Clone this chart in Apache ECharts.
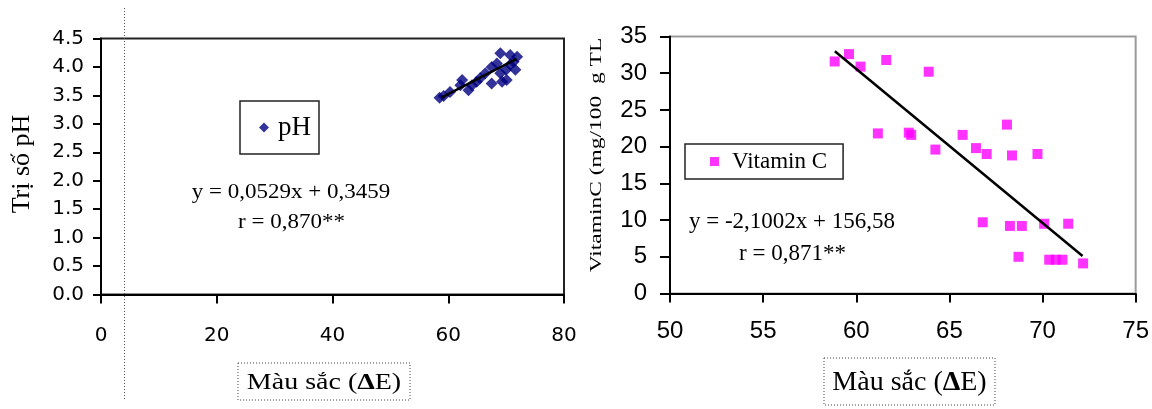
<!DOCTYPE html>
<html><head><meta charset="utf-8">
<script src="https://cdn.jsdelivr.net/npm/echarts/dist/echarts.min.js"></script>
<style>html,body{margin:0;padding:0;background:#fff}#c{width:1152px;height:409px}</style>
</head><body><div id="c"></div>
<script>
// ---- pH vs colour (left chart) ----
const phX = [58.5, 59.2, 60.3, 62.1, 62.4, 63.5, 64.1, 64.9, 65.5, 66.4, 67.5, 67.5, 68.4, 69.0, 69.3, 70.0, 70.1, 69.0, 70.7, 71.9, 71.6, 70.7, 71.3];
const phY = [3.46, 3.49, 3.56, 3.68, 3.77, 3.59, 3.68, 3.74, 3.80, 3.89, 4.00, 3.71, 4.06, 3.89, 3.74, 3.95, 3.77, 4.24, 4.21, 4.18, 3.95, 4.04, 4.09];
const phTrendX = [58.8, 71.8];
const phTrendY = [3.46, 4.14];
const phXTicks = {min: 0, max: 80, step: 20};
const phYTicks = {min: 0, max: 4.5, step: 0.5};

// ---- Vitamin C vs colour (right chart) ----
const vcX = [58.84, 59.61, 60.23, 61.61, 63.89, 61.16, 62.82, 62.95, 64.25, 65.71, 66.43, 67.0, 68.09, 68.36, 69.73, 66.79, 68.25, 68.89, 70.09, 71.38, 68.71, 70.36, 70.71, 71.07, 72.18];
const vcY = [31.6, 32.6, 30.9, 31.8, 30.2, 21.8, 21.9, 21.6, 19.6, 21.6, 19.8, 19.0, 23.0, 18.8, 19.0, 9.7, 9.2, 9.2, 9.5, 9.5, 5.0, 4.6, 4.6, 4.6, 4.1];
const vcTrendX = [58.85, 72.15];
const vcTrendY = [33.0, 5.1];
const vcXTicks = {min: 50, max: 75, step: 5};
const vcYTicks = {min: 0, max: 35, step: 5};

// ---- texts ----
const xTitle = ['Màu sắc (', 'Δ', 'E)'];
const phYTitle = 'Trị số pH';
const vcYTitle = 'VitaminC (mg/100  g TL';
const phName = 'pH';
const vcName = 'Vitamin C';
const phEq = 'y = 0,0529x + 0,3459';
const phR = 'r = 0,870**';
const vcEq = 'y = -2,1002x + 156,58';
const vcR = 'r = 0,871**';

const pairs = (xs, ys) => xs.map((x, i) => [x, ys[i]]);
const SERIF = 'Liberation Serif';

const chart = echarts.init(document.getElementById('c'));

function axisX(grid, t, font, size, margin) {
  return {
    type: 'value', gridIndex: grid, min: t.min, max: t.max, interval: t.step,
    axisLine: {show: true, onZero: false, lineStyle: {color: '#000', width: 2}},
    axisTick: {show: true, length: 9, lineStyle: {color: '#000', width: 2}},
    splitLine: {show: false},
    axisLabel: {fontFamily: font, fontSize: size, color: '#000', margin: margin}
  };
}
function axisY(grid, t, font, size, margin, tickLen, fmt) {
  return {
    type: 'value', gridIndex: grid, min: t.min, max: t.max, interval: t.step,
    axisLine: {show: true, onZero: false, lineStyle: {color: '#000', width: 2}},
    axisTick: {show: true, length: tickLen, lineStyle: {color: '#000', width: 2}},
    splitLine: {show: false},
    axisLabel: {fontFamily: font, fontSize: size, color: '#000', margin: margin, formatter: fmt}
  };
}

function titleBox(cx, cy, w, h, size, sy) {
  return {
    type: 'group', x: cx, y: cy, children: [
      {type: 'rect', shape: {x: -w / 2, y: -h / 2, width: w, height: h},
       style: {fill: 'none', stroke: '#444', lineWidth: 1, lineDash: [1, 2]}},
      {type: 'text', x: 0, y: 1, scaleY: sy,
       style: {text: '{a|' + xTitle[0] + '}{b|' + xTitle[1] + '}{a|' + xTitle[2] + '}',
               align: 'center', verticalAlign: 'middle',
               rich: {a: {fontFamily: SERIF, fontSize: size, fill: '#000', color: '#000'},
                      b: {fontFamily: SERIF, fontSize: size, fontWeight: 'bold', fill: '#000', color: '#000'}}}}
    ]
  };
}
function txt(x, y, s, size, opts) {
  return Object.assign({type: 'text', x: x, y: y,
    style: {text: s, fontFamily: SERIF, fontSize: size, fill: '#000', align: 'center', verticalAlign: 'middle'}}, opts || {});
}

const option = {
  animation: false,
  backgroundColor: '#fff',
  grid: [
    {left: 101, top: 38.5, width: 463, height: 256, show: true, borderColor: '#222', borderWidth: 2, backgroundColor: 'transparent'},
    {left: 670, top: 36.5, width: 467, height: 257, show: true, borderColor: '#9a9a9a', borderWidth: 2, backgroundColor: 'transparent'}
  ],
  xAxis: [
    axisX(0, phXTicks, 'DejaVu Sans', 20, 31),
    axisX(1, vcXTicks, 'Liberation Sans', 24, 26)
  ],
  yAxis: [
    axisY(0, phYTicks, 'DejaVu Sans', 20, 17, 8, v => v.toFixed(1)),
    axisY(1, vcYTicks, 'Liberation Sans', 24, 23, 10, v => String(v))
  ],
  legend: [
    {data: [phName], left: 240, top: 101, orient: 'vertical', itemWidth: 10, itemHeight: 10, itemGap: 0,
     padding: [13, 8, 13, 19], borderColor: '#222', borderWidth: 1.5, selectedMode: false,
     textStyle: {fontFamily: SERIF, fontSize: 27, color: '#000', padding: [0, 0, 0, 4]}},
    {data: [vcName], left: 685, top: 144, orient: 'vertical', itemWidth: 9, itemHeight: 9, itemGap: 0,
     padding: [6, 16, 6, 25], borderColor: '#222', borderWidth: 1.5, selectedMode: false,
     textStyle: {fontFamily: SERIF, fontSize: 23, color: '#000', padding: [0, 0, 0, 8]}}
  ],
  series: [
    {name: phName, type: 'scatter', xAxisIndex: 0, yAxisIndex: 0, symbol: 'diamond', symbolSize: 12,
     itemStyle: {color: '#000080'}, data: pairs(phX, phY), z: 3},
    {name: 'phTrend', type: 'line', xAxisIndex: 0, yAxisIndex: 0, showSymbol: false, symbol: 'none',
     lineStyle: {color: '#000', width: 2.5}, data: pairs(phTrendX, phTrendY), z: 4},
    {name: vcName, type: 'scatter', xAxisIndex: 1, yAxisIndex: 1, symbol: 'rect', symbolSize: 10,
     itemStyle: {color: '#ff00ff'}, data: pairs(vcX, vcY), z: 3},
    {name: 'vcTrend', type: 'line', xAxisIndex: 1, yAxisIndex: 1, showSymbol: false, symbol: 'none',
     lineStyle: {color: '#000', width: 2.5}, data: pairs(vcTrendX, vcTrendY), z: 4}
  ],
  graphic: [
    {type: 'line', shape: {x1: 124.5, y1: 8, x2: 124.5, y2: 400}, style: {stroke: '#555', lineWidth: 1, lineDash: [1, 2]}, z: 10},
    titleBox(324, 381.5, 172, 37, 28, 0.85),
    titleBox(909.5, 381.5, 171, 47, 28, 1),
    txt(22, 164, phYTitle, 26, {rotation: Math.PI / 2}),
    txt(597, 155, vcYTitle, 17, {rotation: Math.PI / 2, scaleX: 1.38}),
    txt(291, 192, phEq, 23, {scaleY: 0.92}),
    txt(291.5, 222, phR, 23, {scaleY: 0.92}),
    txt(792, 222, vcEq, 23),
    txt(792.5, 254, vcR, 23)
  ]
};
chart.setOption(option);
</script>
</body></html>
